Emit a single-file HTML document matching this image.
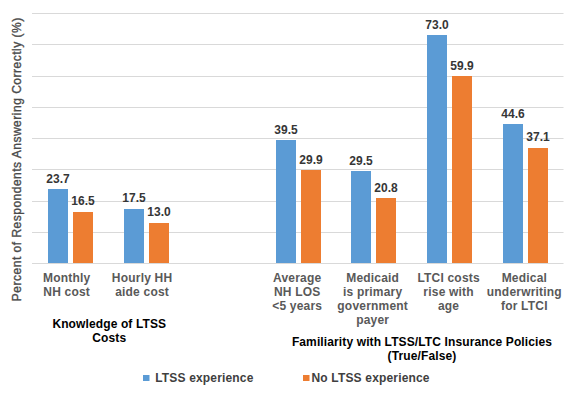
<!DOCTYPE html>
<html><head><meta charset="utf-8"><style>
html,body{margin:0;padding:0;background:#fff;width:575px;height:397px;overflow:hidden}
svg{display:block}
text{font-family:"Liberation Sans",sans-serif;font-size:12px}
.dl{font-weight:bold;fill:#363636;text-anchor:middle}
.cl{font-weight:bold;fill:#595959;text-anchor:middle;letter-spacing:0.2px}
.gt{font-weight:bold;fill:#000;text-anchor:middle;letter-spacing:0.12px}
.lg{font-weight:bold;fill:#404040;letter-spacing:0.17px}
.at{fill:#4a4a4a;stroke:#4a4a4a;stroke-width:0.35px;text-anchor:middle;letter-spacing:0.5px}
</style></head><body>
<svg width="575" height="397" viewBox="0 0 575 397">
<rect width="575" height="397" fill="#fff"/>
<rect x="32" y="13" width="531.5" height="1" fill="#D9D9D9"/>
<rect x="32" y="44" width="531.5" height="1" fill="#D9D9D9"/>
<rect x="32" y="76" width="531.5" height="1" fill="#D9D9D9"/>
<rect x="32" y="107" width="531.5" height="1" fill="#D9D9D9"/>
<rect x="32" y="138" width="531.5" height="1" fill="#D9D9D9"/>
<rect x="32" y="169" width="531.5" height="1" fill="#D9D9D9"/>
<rect x="32" y="201" width="531.5" height="1" fill="#D9D9D9"/>
<rect x="32" y="232" width="531.5" height="1" fill="#D9D9D9"/>
<rect x="48" y="189" width="20" height="75" fill="#5B9BD5"/>
<rect x="73" y="212" width="20" height="52" fill="#ED7D31"/>
<rect x="124" y="209" width="20" height="55" fill="#5B9BD5"/>
<rect x="149" y="223" width="20" height="41" fill="#ED7D31"/>
<rect x="276" y="140" width="20" height="124" fill="#5B9BD5"/>
<rect x="301" y="170" width="20" height="94" fill="#ED7D31"/>
<rect x="351" y="171" width="20" height="93" fill="#5B9BD5"/>
<rect x="376" y="198" width="20" height="66" fill="#ED7D31"/>
<rect x="427" y="35" width="20" height="229" fill="#5B9BD5"/>
<rect x="452" y="76" width="20" height="188" fill="#ED7D31"/>
<rect x="503" y="124" width="20" height="140" fill="#5B9BD5"/>
<rect x="528" y="148" width="20" height="116" fill="#ED7D31"/>
<rect x="32" y="263" width="531.5" height="1" fill="#D9D9D9"/>
<text x="58.00" y="182.94" class="dl">23.7</text>
<text x="83.00" y="205.44" class="dl">16.5</text>
<text x="66.66" y="281.70" class="cl">Monthly</text>
<text x="66.66" y="295.70" class="cl">NH cost</text>
<text x="134.00" y="202.31" class="dl">17.5</text>
<text x="159.00" y="216.38" class="dl">13.0</text>
<text x="142.09" y="281.70" class="cl">Hourly HH</text>
<text x="142.09" y="295.70" class="cl">aide cost</text>
<text x="286.00" y="133.56" class="dl">39.5</text>
<text x="311.00" y="163.56" class="dl">29.9</text>
<text x="297.25" y="281.70" class="cl">Average</text>
<text x="297.25" y="295.70" class="cl">NH LOS</text>
<text x="297.25" y="309.70" class="cl">&lt;5 years</text>
<text x="361.00" y="164.81" class="dl">29.5</text>
<text x="386.00" y="192.00" class="dl">20.8</text>
<text x="372.68" y="281.70" class="cl">Medicaid</text>
<text x="372.68" y="295.70" class="cl">is primary</text>
<text x="372.68" y="309.70" class="cl">government</text>
<text x="372.68" y="323.70" class="cl">payer</text>
<text x="437.00" y="28.88" class="dl">73.0</text>
<text x="462.00" y="69.81" class="dl">59.9</text>
<text x="448.61" y="281.70" class="cl">LTCI costs</text>
<text x="448.61" y="295.70" class="cl">rise with</text>
<text x="448.61" y="309.70" class="cl">age</text>
<text x="513.00" y="117.62" class="dl">44.6</text>
<text x="538.00" y="141.06" class="dl">37.1</text>
<text x="524.34" y="281.70" class="cl">Medical</text>
<text x="524.34" y="295.70" class="cl">underwriting</text>
<text x="524.34" y="309.70" class="cl">for LTCI</text>
<text x="109.3" y="327.5" class="gt">Knowledge of LTSS</text>
<text x="109.3" y="341.5" class="gt">Costs</text>
<text x="422" y="346.2" class="gt">Familiarity with LTSS/LTC Insurance Policies</text>
<text x="422" y="360" class="gt">(True/False)</text>
<rect x="143" y="375" width="6.5" height="6" fill="#5B9BD5"/>
<text x="155.2" y="381.7" class="lg">LTSS experience</text>
<rect x="303" y="375" width="6.5" height="6" fill="#ED7D31"/>
<text x="311.5" y="381.7" class="lg">No LTSS experience</text>
<text transform="translate(20.8,159.25) rotate(-90)" class="at">Percent of Respondents Answering Correctly (%)</text>
</svg>
</body></html>
